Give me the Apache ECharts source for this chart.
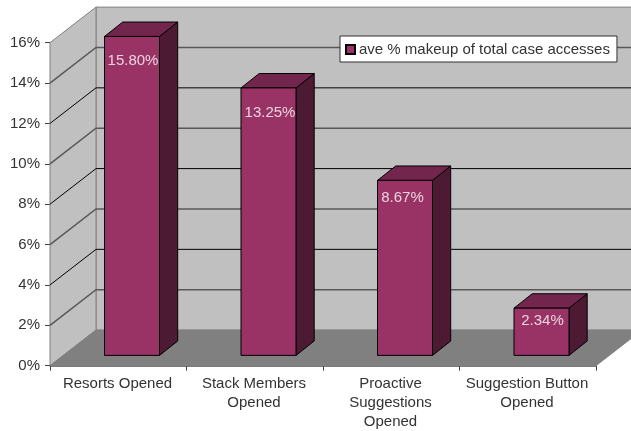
<!DOCTYPE html>
<html>
<head>
<meta charset="utf-8">
<style>html,body{margin:0;padding:0;background:#fff}#chart{width:631px;height:431px}</style>
<script src="https://cdn.jsdelivr.net/npm/echarts@6/dist/echarts.min.js"></script>
</head>
<body>
<div id="chart"></div>
<script>
const categories = ['Resorts Opened', 'Stack Members\nOpened', 'Proactive\nSuggestions\nOpened', 'Suggestion Button\nOpened'];
const seriesName = 'ave % makeup of total case accesses';
const makeup = [15.80, 13.25, 8.67, 2.34];
const yTicks = [0, 2, 4, 6, 8, 10, 12, 14, 16];

// Pseudo-3D depth of the plot box and of each column, in pixels
const BOX_DX = 46, BOX_DY = -35.6;
const BAR_W = 55, BAR_SHIFT = 13.75, BAR_LIFT = -10.3, BAR_DX = 18.2, BAR_DY = -14.4;
// Value labels sit inside the column front, each with its own placement
const LABEL_DROP = [24, 25, 17, 13];
const LABEL_NUDGE = [1, 1.5, -2.5, 1];
const FONT = '"Liberation Sans", Arial, sans-serif';
const TEXT = '#333333';

const chart = echarts.init(document.getElementById('chart'), null, {renderer: 'canvas'});

function renderBox(params, api) {
  const x0 = api.coord([0, 0])[0] - params.coordSys.width / 8;
  const x1 = x0 + params.coordSys.width;
  const y0 = api.coord([0, 0])[1];
  const y1 = api.coord([0, 16])[1];
  const bx0 = x0 + BOX_DX, bx1 = x1 + BOX_DX;
  const by0 = y0 + BOX_DY, by1 = y1 + BOX_DY;
  const kids = [
    {type: 'polygon', shape: {points: [[bx0, by1], [bx1, by1], [bx1, by0], [bx0, by0]]},
      style: {fill: '#c0c0c0', stroke: '#808080', lineWidth: 1}},
    {type: 'polygon', shape: {points: [[x0, y1], [bx0, by1], [bx0, by0], [x0, y0]]},
      style: {fill: '#c0c0c0', stroke: '#808080', lineWidth: 1}},
    {type: 'polygon', shape: {points: [[x0, y0], [bx0, by0], [bx1, by0], [x1, y0]]},
      style: {fill: '#808080', stroke: '#808080', lineWidth: 1}}
  ];
  yTicks.slice(1, -1).forEach(function (t, i) {
    const y = api.coord([0, t])[1];
    // Alternate gridlines land between pixel rows and read heavier and greyer
    const soft = i % 2 === 0;
    kids.push({type: 'polyline', shape: {points: [[x0, y], [bx0, y + BOX_DY], [bx1, y + BOX_DY]]},
      style: {fill: 'none', stroke: soft ? '#585858' : '#000', lineWidth: soft ? 1.5 : 1}});
  });
  return {type: 'group', children: kids};
}

function renderBar(params, api) {
  const cat = api.value(0);
  const val = api.value(1);
  const cx = api.coord([cat, 0])[0] + BAR_SHIFT;
  const l = cx - BAR_W / 2, r = cx + BAR_W / 2;
  const b = api.coord([cat, 0])[1] + BAR_LIFT;
  const t = api.coord([cat, val])[1] + BAR_LIFT;
  const edge = {stroke: '#000', lineWidth: 1, lineJoin: 'round'};
  return {type: 'group', children: [
    {type: 'polygon', shape: {points: [[r, t], [r + BAR_DX, t + BAR_DY], [r + BAR_DX, b + BAR_DY], [r, b]]},
      style: Object.assign({fill: '#4d1a33'}, edge)},
    {type: 'polygon', shape: {points: [[l, t], [l + BAR_DX, t + BAR_DY], [r + BAR_DX, t + BAR_DY], [r, t]]},
      style: Object.assign({fill: '#73264d'}, edge)},
    {type: 'rect', shape: {x: l, y: t, width: BAR_W, height: b - t},
      style: Object.assign({fill: '#993366'}, edge)},
    {type: 'text', x: cx + LABEL_NUDGE[cat], y: t + LABEL_DROP[cat],
      style: {text: val.toFixed(2) + '%', fill: '#ecd3e0', font: '15px ' + FONT, align: 'center', verticalAlign: 'middle'}}
  ]};
}

chart.setOption({
  animation: false,
  backgroundColor: '#fff',
  grid: {left: 50, right: 35, top: 42.7, height: 323, containLabel: false, outerBoundsMode: 'none'},
  xAxis: {
    type: 'category',
    data: categories,
    boundaryGap: true,
    axisLine: {lineStyle: {color: '#505050', width: 1.5}},
    axisTick: {show: true, alignWithLabel: false, length: 5, lineStyle: {color: '#404040'}},
    axisLabel: {color: TEXT, fontFamily: FONT, fontSize: 15, lineHeight: 19, margin: 9, interval: 0, padding: [0, 1.5, 0, 0]}
  },
  yAxis: {
    type: 'value',
    min: 0,
    max: 16,
    interval: 2,
    axisLine: {show: true, lineStyle: {color: '#303030', width: 1}},
    axisTick: {show: true, length: 5, lineStyle: {color: '#404040'}},
    splitLine: {show: false},
    axisLabel: {color: TEXT, fontFamily: FONT, fontSize: 15, margin: 10, formatter: '{value}%'}
  },
  legend: {
    show: true,
    left: 340,
    top: 36,
    padding: [6, 7, 5, 5],
    orient: 'horizontal',
    backgroundColor: '#fff',
    borderColor: '#303030',
    borderWidth: 1,
    borderRadius: 0,
    itemWidth: 9,
    itemHeight: 9,
    itemGap: 0,
    textStyle: {color: TEXT, fontFamily: FONT, fontSize: 15, padding: [0, 0, 0, -1]},
    data: [{name: seriesName, icon: 'rect'}]
  },
  series: [
    {type: 'custom', name: 'box', coordinateSystem: 'cartesian2d', silent: true, z: 1,
      clip: false, renderItem: renderBox, data: [[0, 0]], encode: {x: 0, y: 1}},
    {type: 'custom', name: seriesName, coordinateSystem: 'cartesian2d', z: 2,
      clip: false, renderItem: renderBar,
      itemStyle: {color: '#993366', borderColor: '#000', borderWidth: 1},
      data: makeup.map(function (v, i) { return [i, v]; }),
      encode: {x: 0, y: 1}}
  ]
});
</script>
</body>
</html>
